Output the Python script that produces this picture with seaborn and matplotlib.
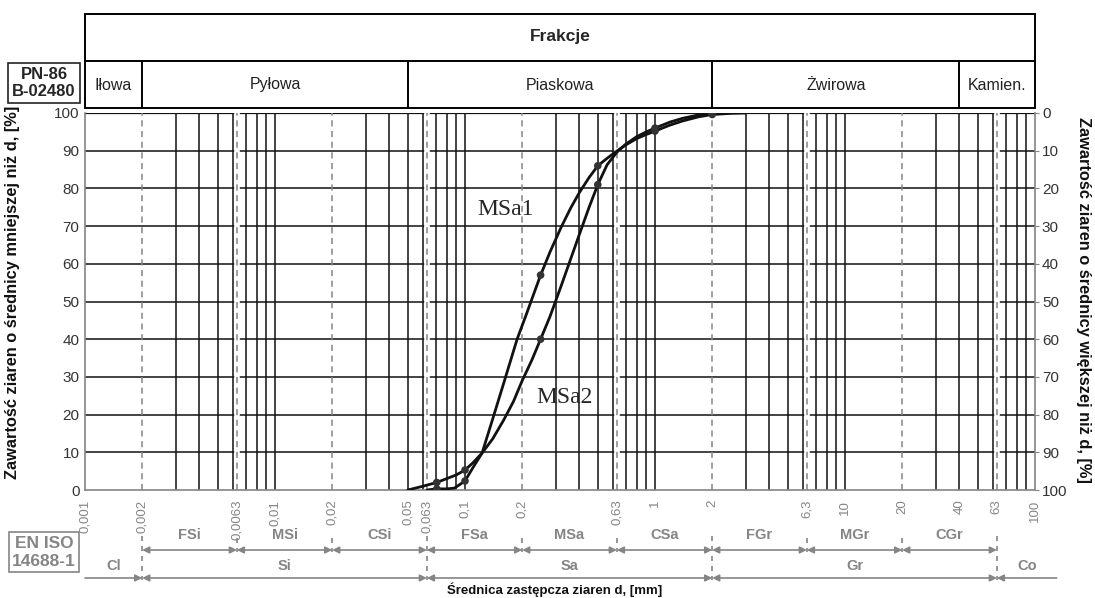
import numpy as np
import pandas as pd
import matplotlib
matplotlib.use("Agg")
import matplotlib.pyplot as plt
from matplotlib.transforms import blended_transform_factory
from matplotlib.ticker import NullLocator
import seaborn as sns

# --- data ---
msa1_d = [0.063, 0.071, 0.08, 0.088, 0.1, 0.11, 0.123, 0.14, 0.16, 0.188, 0.21, 0.23, 0.25, 0.28,
          0.32, 0.36, 0.4, 0.45, 0.5, 0.56, 0.63, 0.7, 0.8, 0.9, 1.0, 1.2, 1.4, 1.7, 2.0, 2.5, 3.0]
msa1_p = [0, 0.3, 0.3, 0.5, 2.4, 5.9, 9.8, 18.9, 28.4, 40, 46.5, 52, 57, 63.1,
          69.6, 74.8, 78.9, 82.9, 86, 88.0, 89.9, 91.5, 93.2, 94.3, 95.2, 96.8, 97.9, 99.0, 99.6, 99.9, 100]
msa2_d = [0.05, 0.06, 0.071, 0.08, 0.09, 0.1, 0.11, 0.123, 0.14, 0.16, 0.18, 0.2, 0.225, 0.25, 0.28,
          0.32, 0.36, 0.4, 0.45, 0.5, 0.56, 0.63, 0.7, 0.8, 0.9, 1.0, 1.2, 1.4, 1.7, 2.0]
msa2_p = [0, 1.0, 2.0, 3.0, 4.0, 5.3, 7.2, 9.8, 13.6, 18.6, 23.5, 29, 34.5, 40, 46,
          54, 61.3, 67.8, 75, 81, 86.3, 89.6, 91.7, 93.7, 95, 96, 97.6, 98.6, 99.5, 100]
sieve_d = [0.071, 0.1, 0.25, 0.5, 1.0, 2.0]
msa1_dots = [0.3, 2.4, 57, 86, 95.2, 99.6]
msa2_dots = [2.0, 5.3, 40, 81, 96, 100]

xtick_vals = [0.001, 0.002, 0.0063, 0.01, 0.02, 0.05, 0.063, 0.1, 0.2, 0.63, 1, 2, 6.3, 10, 20, 40, 63, 100]
xtick_labels = ['0,001', '0,002', '0,0063', '0,01', '0,02', '0,05', '0,063', '0,1', '0,2', '0,63',
                '1', '2', '6,3', '10', '20', '40', '63', '100']

pn_bounds = [0.001, 0.002, 0.05, 2, 40, 100]
pn_names = ['Iłowa', 'Pyłowa', 'Piaskowa', 'Żwirowa', 'Kamien.']
iso1_bounds = [0.002, 0.0063, 0.02, 0.063, 0.2, 0.63, 2, 6.3, 20, 63]
iso1_names = ['FSi', 'MSi', 'CSi', 'FSa', 'MSa', 'CSa', 'FGr', 'MGr', 'CGr']
iso2_bounds = [0.001, 0.002, 0.063, 2, 63, 130]
iso2_names = ['Cl', 'Si', 'Sa', 'Gr', 'Co']

curves = pd.concat([
    pd.DataFrame({'d': msa1_d, 'p': msa1_p, 'proba': 'MSa1'}),
    pd.DataFrame({'d': msa2_d, 'p': msa2_p, 'proba': 'MSa2'}),
])
dots = pd.DataFrame({'d': sieve_d * 2, 'p': msa1_dots + msa2_dots})

sns.set_style("white")
plt.rcParams['font.family'] = ['Liberation Sans', 'DejaVu Sans']

GRAY = '#858585'
W, H = 1095, 598
fig = plt.figure(figsize=(W / 100, H / 100), dpi=100)
ax = fig.add_axes([85 / W, 1 - 490 / H, 950 / W, 377 / H])
ax.set_xscale('log')
ax.set_xlim(0.001, 100)
ax.set_ylim(0, 100)

# grid
for k in range(-3, 2):
    for m in [1, 3, 4, 5, 6, 7, 8, 9]:
        v = m * 10.0 ** k
        if 0.001 < v < 100:
            ax.axvline(v, color='#111111', lw=1.1, zorder=1)
for p in range(10, 101, 10):
    ax.axhline(p, color='#111111', lw=1.1 if p < 100 else 1.6, zorder=1)
for k in range(-3, 2):
    ax.axvline(2 * 10.0 ** k, color=GRAY, lw=1.1, ls=(0, (4, 3)), zorder=2)
    ax.axvline(6.3 * 10.0 ** k, color='white', lw=4, zorder=2)
    ax.axvline(6.3 * 10.0 ** k, color=GRAY, lw=1.1, ls=(0, (4, 3)), zorder=2)

for s in ['left', 'right', 'bottom']:
    ax.spines[s].set_color(GRAY)
    ax.spines[s].set_linewidth(1.2)
ax.spines['top'].set_visible(False)

# curves
sns.lineplot(data=curves, x='d', y='p', units='proba', estimator=None, color='#111111',
             lw=2.0, ax=ax, zorder=4, legend=False)
sns.scatterplot(data=dots, x='d', y='p', color='#333333', s=30, edgecolor='none', ax=ax, zorder=5)
ax.text(0.163, 74.5, 'MSa1', family='Liberation Serif', fontsize=17, ha='center', va='center', zorder=6)
ax.text(0.336, 24.5, 'MSa2', family='Liberation Serif', fontsize=17, ha='center', va='center', zorder=6)

# ticks
ax.xaxis.set_minor_locator(NullLocator())
ax.set_xticks(xtick_vals)
ax.set_xticklabels(xtick_labels, rotation=90, color=GRAY, fontsize=9.5)
ax.tick_params(axis='x', length=0, pad=7)
ax.set_yticks(range(0, 101, 10))
ax.tick_params(axis='y', length=0, pad=4, labelsize=11, labelcolor='#333333')
ax.set_xlabel('')
ax.set_ylabel('')

ax2 = ax.twinx()
ax2.set_ylim(100, 0)
ax2.set_yticks(range(0, 101, 10))
ax2.tick_params(axis='y', length=3, pad=2, labelsize=11, labelcolor='#333333', color=GRAY)
for s in ax2.spines.values():
    s.set_visible(False)

trans = blended_transform_factory(ax.transData, ax.transAxes)


def yf(px):
    return (490 - px) / 377


# header boxes
kw = dict(color='black', lw=1.4, transform=trans, clip_on=False)
for y in [yf(14), yf(61), yf(108)]:
    ax.plot([0.001, 100], [y, y], **kw)
ax.plot([0.001, 0.001], [yf(14), yf(108)], **kw)
ax.plot([100, 100], [yf(14), yf(108)], **kw)
for b in pn_bounds[1:-1]:
    ax.plot([b, b], [yf(61), yf(108)], **kw)
ax.text(np.sqrt(0.001 * 100), yf(37), 'Frakcje', transform=trans, ha='center', va='center',
        fontsize=12.5, fontweight='bold')
for i, name in enumerate(pn_names):
    xc = np.sqrt(pn_bounds[i] * pn_bounds[i + 1])
    ax.text(xc, yf(85), name, transform=trans, ha='center', va='center', fontsize=11.5, color='#222222')

fig.text(44 / W, 1 - 83 / H, 'PN-86\nB-02480', ha='center', va='center', fontsize=12,
         fontweight='bold', linespacing=1.15,
         bbox=dict(boxstyle='square,pad=0.25', fc='white', ec='#222222', lw=1.2))
fig.text(44 / W, 1 - 552 / H, 'EN ISO\n14688-1', ha='center', va='center', fontsize=12.5,
         fontweight='bold', color=GRAY, linespacing=1.25,
         bbox=dict(boxstyle='square,pad=0.2', fc='white', ec=GRAY, lw=1.2))

# EN ISO fractions
akw = dict(color=GRAY, lw=1.2, shrinkA=0, shrinkB=0, mutation_scale=10)
for i, name in enumerate(iso1_names):
    a, b = iso1_bounds[i], iso1_bounds[i + 1]
    ax.annotate('', xy=(b, yf(550)), xytext=(a, yf(550)), xycoords=trans,
                arrowprops=dict(arrowstyle='<|-|>', **akw), annotation_clip=False)
    ax.text(np.sqrt(a * b), yf(535), name, transform=trans, ha='center', va='center',
            fontsize=10.5, fontweight='bold', color=GRAY)
for i, name in enumerate(iso2_names):
    a, b = iso2_bounds[i], iso2_bounds[i + 1]
    if i == 0:
        ax.annotate('', xy=(b, yf(578)), xytext=(a, yf(578)), xycoords=trans,
                    arrowprops=dict(arrowstyle='-|>', **akw), annotation_clip=False)
    elif i == len(iso2_names) - 1:
        ax.annotate('', xy=(a, yf(578)), xytext=(b, yf(578)), xycoords=trans,
                    arrowprops=dict(arrowstyle='-|>', **akw), annotation_clip=False)
    else:
        ax.annotate('', xy=(b, yf(578)), xytext=(a, yf(578)), xycoords=trans,
                    arrowprops=dict(arrowstyle='<|-|>', **akw), annotation_clip=False)
    ax.text(np.sqrt(a * b), yf(566), name, transform=trans, ha='center', va='center',
            fontsize=10.5, fontweight='bold', color=GRAY)
dkw = dict(color=GRAY, lw=1.2, ls=(0, (3, 3)), transform=trans, clip_on=False)
for b in iso1_bounds:
    if b in iso2_bounds:
        ax.plot([b, b], [yf(536), yf(580)], **dkw)
    else:
        ax.plot([b, b], [yf(538), yf(552)], **dkw)

fig.text(555 / W, 1 - 590 / H, 'Średnica zastępcza ziaren d, [mm]', ha='center', va='center',
         fontsize=9.5, fontweight='bold', color='#111111')
fig.text(13 / W, 1 - 292 / H, 'Zawartość ziaren o średnicy mniejszej niż d, [%]', rotation=90,
         ha='center', va='center', fontsize=11.8, fontweight='bold', color='#111111')
fig.text(1083 / W, 1 - 300 / H, 'Zawartość ziaren o średnicy większej niż d, [%]', rotation=270,
         ha='center', va='center', fontsize=11.8, fontweight='bold', color='#111111')

fig.savefig('out.png', dpi=100)
